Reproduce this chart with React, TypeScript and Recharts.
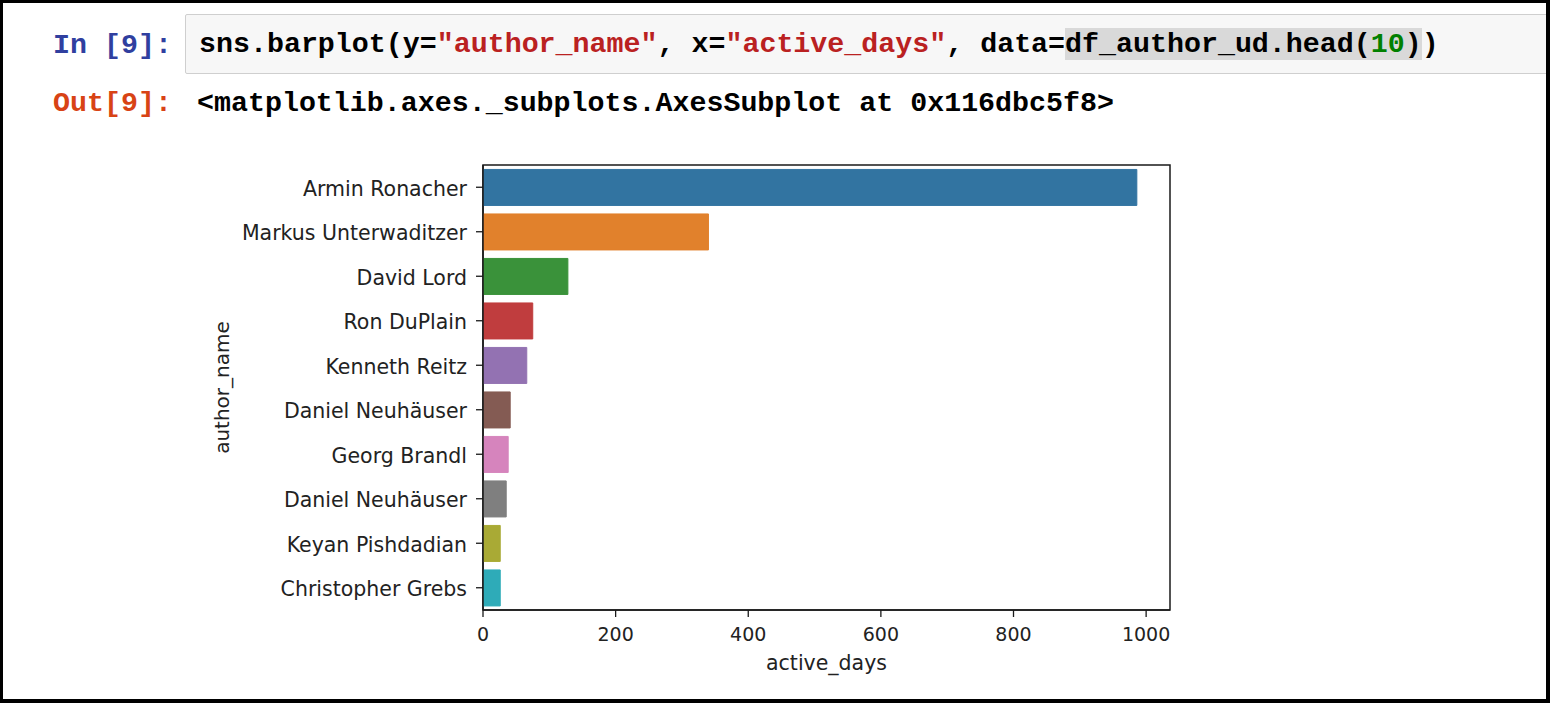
import React from "react";
import { BarChart, Bar, XAxis, YAxis, Cell, ReferenceArea } from "recharts";

const authorNames = [
  "Armin Ronacher",
  "Markus Unterwaditzer",
  "David Lord",
  "Ron DuPlain",
  "Kenneth Reitz",
  "Daniel Neuhäuser",
  "Georg Brandl",
  "Daniel Neuhäuser",
  "Keyan Pishdadian",
  "Christopher Grebs",
];
const activeDays = [986, 340, 128, 75, 66, 41, 38, 35, 26, 26];
const barColors = [
  "#3274a1",
  "#e1812c",
  "#3a923a",
  "#c03d3e",
  "#9372b2",
  "#845b53",
  "#d684bd",
  "#7f7f7f",
  "#a9aa35",
  "#2eabb8",
];
const xTicks = [0, 200, 400, 600, 800, 1000];
const xMax = 1036;

const data = authorNames.map((name, i) => ({ key: String(i), name, active_days: activeDays[i] }));

const FONT = "'DejaVu Sans', sans-serif";
const MONO = "'Liberation Mono', 'DejaVu Sans Mono', monospace";
const AXIS = "#1a1a1a";
const TXT = "#222";

const YLabel = (props: any) => {
  const vb = props.viewBox;
  const cx = vb.x + 9;
  const cy = vb.y + vb.height / 2;
  return (
    <text x={cx} y={cy} transform={`rotate(-90 ${cx} ${cy})`} textAnchor="middle" dominantBaseline="central" fill={TXT} fontSize={20} fontFamily={FONT}>
      author_name
    </text>
  );
};

const XLabel = (props: any) => {
  const vb = props.viewBox;
  return (
    <text x={vb.x + vb.width / 2} y={vb.y + 53} textAnchor="middle" dominantBaseline="central" fill={TXT} fontSize={20.5} fontFamily={FONT}>
      active_days
    </text>
  );
};

export default function App() {
  return (
    <div style={{ position: "absolute", left: 0, top: 0, width: 1550, height: 703, background: "#fff", overflow: "hidden" }}>
      <div style={{ position: "absolute", left: 0, top: 0 }}>
        <BarChart
          width={1550}
          height={703}
          data={data}
          layout="vertical"
          barCategoryGap="10%"
          margin={{ top: 165, right: 380, bottom: 13, left: 213 }}
        >
          <XAxis
            type="number"
            dataKey="active_days"
            domain={[0, xMax]}
            ticks={xTicks}
            allowDataOverflow
            height={80}
            tickSize={7}
            tickMargin={11}
            stroke={AXIS}
            axisLine={{ stroke: AXIS, strokeWidth: 1.5 }}
            tickLine={{ stroke: AXIS, strokeWidth: 1.3 }}
            tick={{ fill: TXT, fontSize: 19, fontFamily: FONT }}
            label={{ content: XLabel }}
          />
          <YAxis
            type="category"
            dataKey="key"
            width={270}
            tickSize={7}
            tickMargin={9}
            stroke={AXIS}
            interval={0}
            axisLine={{ stroke: AXIS, strokeWidth: 1.5 }}
            tickLine={{ stroke: AXIS, strokeWidth: 1.3 }}
            tick={{ fill: TXT, fontSize: 20.5, fontFamily: FONT, dy: 1 }}
            tickFormatter={(v: string) => authorNames[Number(v)]}
            label={{ content: YLabel }}
          />
          <ReferenceArea x1={0} x2={xMax} fill="none" fillOpacity={0} stroke={AXIS} strokeWidth={1.5} />
          <Bar dataKey="active_days" isAnimationActive={false}>
            {data.map((d, i) => (
              <Cell key={d.key} fill={barColors[i]} stroke={barColors[i]} strokeWidth={1} />
            ))}
          </Bar>
        </BarChart>
      </div>

      {/* Notebook header */}
      <div style={{ position: "absolute", left: 185, top: 14, width: 1450, height: 58, background: "#f7f7f7", border: "1px solid #cfcfcf", borderRadius: 2 }} />
      <div style={{ position: "absolute", left: 53, top: 29, lineHeight: "32px", fontFamily: MONO, fontSize: 28.3, fontWeight: 700, color: "#303F9F", whiteSpace: "pre" }}>
        In [9]:
      </div>
      <div style={{ position: "absolute", left: 199, top: 28, lineHeight: "32px", fontFamily: MONO, fontSize: 28.3, fontWeight: 700, color: "#000", whiteSpace: "pre" }}>
        sns.barplot(y=<span style={{ color: "#BA2121" }}>"author_name"</span>, x=<span style={{ color: "#BA2121" }}>"active_days"</span>, data=
        <span style={{ background: "#d9d9d9" }}>
          df_author_ud.head(<span style={{ color: "#008000" }}>10</span>)
        </span>
        )
      </div>
      <div style={{ position: "absolute", left: 53, top: 87, lineHeight: "32px", fontFamily: MONO, fontSize: 28.3, fontWeight: 700, color: "#D84315", whiteSpace: "pre" }}>
        Out[9]:
      </div>
      <div style={{ position: "absolute", left: 197, top: 87, lineHeight: "32px", fontFamily: MONO, fontSize: 28.3, fontWeight: 700, color: "#000", whiteSpace: "pre" }}>
        {"<matplotlib.axes._subplots.AxesSubplot at 0x116dbc5f8>"}
      </div>

      {/* Image frame */}
      <div style={{ position: "absolute", left: 0, top: 0, width: 1550, height: 703, boxSizing: "border-box", borderTop: "3px solid #000", borderLeft: "3px solid #000", borderRight: "4px solid #000", borderBottom: "4px solid #000", pointerEvents: "none" }} />
    </div>
  );
}
